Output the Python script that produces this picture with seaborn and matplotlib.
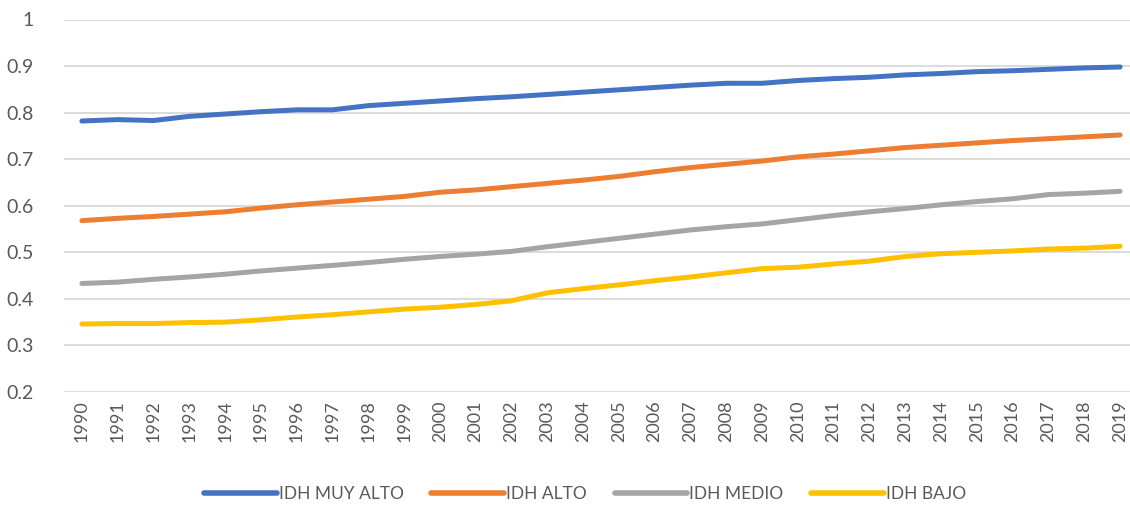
import matplotlib
matplotlib.use("Agg")
import matplotlib.pyplot as plt
import pandas as pd
import seaborn as sns

years = list(range(1990, 2020))

idh_muy_alto = [0.782, 0.785, 0.783, 0.792, 0.797, 0.802, 0.806, 0.806, 0.815, 0.820,
                0.825, 0.830, 0.834, 0.839, 0.844, 0.849, 0.854, 0.859, 0.863, 0.863,
                0.869, 0.873, 0.876, 0.881, 0.884, 0.888, 0.890, 0.893, 0.896, 0.898]
idh_alto = [0.568, 0.573, 0.577, 0.582, 0.587, 0.595, 0.602, 0.608, 0.614, 0.620,
            0.629, 0.634, 0.641, 0.648, 0.655, 0.663, 0.673, 0.682, 0.689, 0.696,
            0.705, 0.711, 0.718, 0.725, 0.730, 0.735, 0.740, 0.744, 0.748, 0.752]
idh_medio = [0.433, 0.436, 0.442, 0.447, 0.453, 0.460, 0.466, 0.472, 0.478, 0.485,
             0.491, 0.496, 0.502, 0.512, 0.521, 0.530, 0.539, 0.548, 0.555, 0.561,
             0.570, 0.579, 0.587, 0.594, 0.602, 0.609, 0.615, 0.624, 0.627, 0.631]
idh_bajo = [0.346, 0.347, 0.347, 0.349, 0.350, 0.355, 0.361, 0.366, 0.372, 0.378,
            0.382, 0.388, 0.396, 0.413, 0.422, 0.430, 0.439, 0.447, 0.456, 0.465,
            0.468, 0.475, 0.481, 0.491, 0.497, 0.500, 0.503, 0.507, 0.509, 0.513]

series_names = ["IDH MUY ALTO", "IDH ALTO", "IDH MEDIO", "IDH BAJO"]
series_values = [idh_muy_alto, idh_alto, idh_medio, idh_bajo]
colors = ["#4472C4", "#ED7D31", "#A5A5A5", "#FFC000"]

df = pd.concat(
    [pd.DataFrame({"year": [str(y) for y in years], "idh": vals, "serie": name})
     for name, vals in zip(series_names, series_values)]
)

sns.set_theme(style="white")
plt.rcParams["font.family"] = ["Lato", "DejaVu Sans"]

W, H = 1130, 507
fig = plt.figure(figsize=(W / 100, H / 100), dpi=100)
ax = fig.add_axes([64 / W, 1 - 392 / H, (1138 - 64) / W, (392 - 19.5) / H])

sns.lineplot(
    data=df, x="year", y="idh", hue="serie", hue_order=series_names,
    palette=colors, linewidth=3.6, solid_capstyle="round", ax=ax, legend=False,
)

ax.set_xlim(-0.5, len(years) - 0.5)
ax.set_ylim(0.2, 1.0)
ax.set_yticks([0.2, 0.3, 0.4, 0.5, 0.6, 0.7, 0.8, 0.9, 1.0])
ax.set_yticklabels(["0.2", "0.3", "0.4", "0.5", "0.6", "0.7", "0.8", "0.9", "1"])
ax.yaxis.grid(True, color="#d9d9d9", linewidth=1.3)
ax.set_axisbelow(True)
for s in ax.spines.values():
    s.set_visible(False)
ax.set_xlabel("")
ax.set_ylabel("")
ax.tick_params(axis="y", labelsize=14, labelcolor="#595959", length=0, pad=22)
ax.tick_params(axis="x", labelsize=13, labelcolor="#595959", length=0, pad=6,
               labelrotation=90)

handles = [plt.Line2D([], [], color=c, linewidth=4, solid_capstyle="round") for c in colors]
fig.legend(handles, series_names, loc="center", bbox_to_anchor=(585 / W, 1 - 494 / H),
           ncol=4, frameon=False, fontsize=12.5, handlelength=4.2, handletextpad=0.1,
           columnspacing=1.6, labelcolor="#595959")

fig.savefig("out.png", dpi=100)
